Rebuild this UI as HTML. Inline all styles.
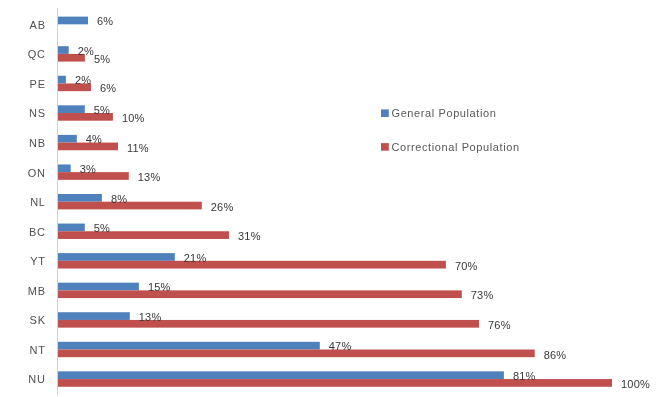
<!DOCTYPE html>
<html><head><meta charset="utf-8"><style>
html,body{margin:0;padding:0;background:#fff;width:661px;height:397px;overflow:hidden}
svg{position:absolute;left:0;top:0;display:block;will-change:transform}
text{font-family:"Liberation Sans",sans-serif}
.cat{font-size:11px;fill:#505050;letter-spacing:0.8px}
.lbl{font-size:11px;fill:#383838;letter-spacing:0.2px}
.leg{font-size:11px;fill:#595959;letter-spacing:0.6px}
</style></head><body>
<svg width="661" height="397" viewBox="0 0 661 397" xmlns="http://www.w3.org/2000/svg">
<line x1="57.5" y1="8" x2="57.5" y2="395" stroke="#D0D0D0" stroke-width="1"/>
<rect x="58.0" y="16.63" width="30.00" height="7.7" fill="#4F81BD"/>
<rect x="58.0" y="46.19" width="10.70" height="7.7" fill="#4F81BD"/>
<rect x="58.0" y="53.89" width="26.90" height="7.7" fill="#C0504D"/>
<rect x="58.0" y="75.75" width="7.90" height="7.7" fill="#4F81BD"/>
<rect x="58.0" y="83.45" width="33.00" height="7.7" fill="#C0504D"/>
<rect x="58.0" y="105.31" width="26.80" height="7.7" fill="#4F81BD"/>
<rect x="58.0" y="113.01" width="54.90" height="7.7" fill="#C0504D"/>
<rect x="58.0" y="134.87" width="18.80" height="7.7" fill="#4F81BD"/>
<rect x="58.0" y="142.57" width="60.00" height="7.7" fill="#C0504D"/>
<rect x="58.0" y="164.44" width="12.70" height="7.7" fill="#4F81BD"/>
<rect x="58.0" y="172.13" width="70.80" height="7.7" fill="#C0504D"/>
<rect x="58.0" y="194.00" width="43.90" height="7.7" fill="#4F81BD"/>
<rect x="58.0" y="201.70" width="143.80" height="7.7" fill="#C0504D"/>
<rect x="58.0" y="223.56" width="26.80" height="7.7" fill="#4F81BD"/>
<rect x="58.0" y="231.26" width="171.00" height="7.7" fill="#C0504D"/>
<rect x="58.0" y="253.12" width="116.80" height="7.7" fill="#4F81BD"/>
<rect x="58.0" y="260.82" width="387.90" height="7.7" fill="#C0504D"/>
<rect x="58.0" y="282.68" width="80.90" height="7.7" fill="#4F81BD"/>
<rect x="58.0" y="290.38" width="403.80" height="7.7" fill="#C0504D"/>
<rect x="58.0" y="312.24" width="71.80" height="7.7" fill="#4F81BD"/>
<rect x="58.0" y="319.94" width="421.00" height="7.7" fill="#C0504D"/>
<rect x="58.0" y="341.80" width="261.80" height="7.7" fill="#4F81BD"/>
<rect x="58.0" y="349.50" width="476.70" height="7.7" fill="#C0504D"/>
<rect x="58.0" y="371.36" width="445.90" height="7.7" fill="#4F81BD"/>
<rect x="58.0" y="379.06" width="554.00" height="7.7" fill="#C0504D"/>
<text x="45.8" y="28.73" text-anchor="end" class="cat">AB</text>
<text x="97.00" y="25.23" class="lbl">6%</text>
<text x="45.8" y="58.29" text-anchor="end" class="cat">QC</text>
<text x="77.70" y="54.79" class="lbl">2%</text>
<text x="93.90" y="62.89" class="lbl">5%</text>
<text x="45.8" y="87.85" text-anchor="end" class="cat">PE</text>
<text x="74.90" y="84.35" class="lbl">2%</text>
<text x="100.00" y="92.45" class="lbl">6%</text>
<text x="45.8" y="117.41" text-anchor="end" class="cat">NS</text>
<text x="93.80" y="113.91" class="lbl">5%</text>
<text x="121.90" y="122.01" class="lbl">10%</text>
<text x="45.8" y="146.97" text-anchor="end" class="cat">NB</text>
<text x="85.80" y="143.47" class="lbl">4%</text>
<text x="127.00" y="151.57" class="lbl">11%</text>
<text x="45.8" y="176.53" text-anchor="end" class="cat">ON</text>
<text x="79.70" y="173.03" class="lbl">3%</text>
<text x="137.80" y="181.13" class="lbl">13%</text>
<text x="45.8" y="206.10" text-anchor="end" class="cat">NL</text>
<text x="110.90" y="202.60" class="lbl">8%</text>
<text x="210.80" y="210.70" class="lbl">26%</text>
<text x="45.8" y="235.66" text-anchor="end" class="cat">BC</text>
<text x="93.80" y="232.16" class="lbl">5%</text>
<text x="238.00" y="240.26" class="lbl">31%</text>
<text x="45.8" y="265.22" text-anchor="end" class="cat">YT</text>
<text x="183.80" y="261.72" class="lbl">21%</text>
<text x="454.90" y="269.82" class="lbl">70%</text>
<text x="45.8" y="294.78" text-anchor="end" class="cat">MB</text>
<text x="147.90" y="291.28" class="lbl">15%</text>
<text x="470.80" y="299.38" class="lbl">73%</text>
<text x="45.8" y="324.34" text-anchor="end" class="cat">SK</text>
<text x="138.80" y="320.84" class="lbl">13%</text>
<text x="488.00" y="328.94" class="lbl">76%</text>
<text x="45.8" y="353.90" text-anchor="end" class="cat">NT</text>
<text x="328.80" y="350.40" class="lbl">47%</text>
<text x="543.70" y="358.50" class="lbl">86%</text>
<text x="45.8" y="383.46" text-anchor="end" class="cat">NU</text>
<text x="512.90" y="379.96" class="lbl">81%</text>
<text x="621.00" y="388.06" class="lbl">100%</text>
<rect x="381" y="109.4" width="7.8" height="7.6" fill="#4F81BD"/>
<text x="391.5" y="116.7" class="leg">General Population</text>
<rect x="381" y="143.1" width="7.8" height="7.6" fill="#C0504D"/>
<text x="391.5" y="150.7" class="leg">Correctional Population</text>
</svg>
</body></html>
